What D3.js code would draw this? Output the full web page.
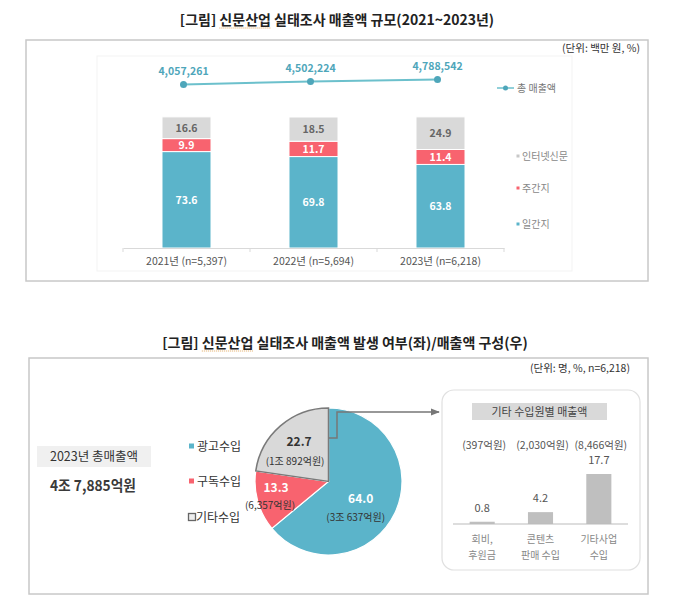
<!DOCTYPE html>
<html><head><meta charset="utf-8">
<script src="https://cdn.jsdelivr.net/npm/d3@7"></script>
<style>
html,body{margin:0;padding:0;background:#fff;}
svg{display:block;font-family:"Noto Sans CJK KR","Noto Sans",sans-serif;}
</style></head>
<body>
<svg id="c" width="680" height="601"></svg>
<script>
// ---------- DATA ----------
const years = ["2021년 (n=5,397)", "2022년 (n=5,694)", "2023년 (n=6,218)"];
const dailyShare = [73.6, 69.8, 63.8];
const weeklyShare = [9.9, 11.7, 11.4];
const internetShare = [16.6, 18.5, 24.9];
const totalSales = [4057261, 4502224, 4788542];
const topSeriesNames = ["일간지", "주간지", "인터넷신문"];
const lineSeriesName = "총 매출액";

const revenueCats = ["광고수입", "구독수입", "기타수입"];
const revenueShare = [64.0, 13.3, 22.7];
const revenueAmount = ["(3조 637억원)", "(6,357억원)", "(1조 892억원)"];
const totalRevenueLabel = "2023년 총매출액";
const totalRevenueValue = "4조 7,885억원";

const otherCats = [["회비,", "후원금"], ["콘텐츠", "판매 수입"], ["기타사업", "수입"]];
const otherShare = [0.8, 4.2, 17.7];
const otherAmount = ["(397억원)", "(2,030억원)", "(8,466억원)"];
const otherTitle = "기타 수입원별 매출액";

const title1 = "[그림] 신문산업 실태조사 매출액 규모(2021~2023년)";
const unit1 = "(단위: 백만 원, %)";
const title2 = "[그림] 신문산업 실태조사 매출액 발생 여부(좌)/매출액 구성(우)";
const unit2 = "(단위: 명, %, n=6,218)";

// ---------- STYLE ----------
const C_BLUE = "#5BB4CA", C_RED = "#F8636F", C_GRAY = "#D9D9D9";
const C_LINE = "#6CC0CC", C_LINE_TXT = "#4EA6BA";
const svg = d3.select("#c");

function title(txt, x, y) {
  const t = svg.append("text").attr("x", x).attr("y", y).attr("text-anchor", "middle")
    .attr("font-size", 14).attr("font-weight", "bold").attr("fill", "#222").text(txt);
  const key = "신문산업";
  const idx = txt.indexOf(key);
  if (idx >= 0) {
    const n = t.node();
    const s = n.getStartPositionOfChar(idx).x;
    const e = n.getEndPositionOfChar(idx + key.length - 1).x;
    svg.append("line").attr("x1", s).attr("x2", e).attr("y1", y + 3).attr("y2", y + 3)
      .attr("stroke", "#e0a860").attr("stroke-width", 1).attr("stroke-dasharray", "1,1");
  }
}

// ---------- TOP ----------
title(title1, 337, 25);
svg.append("rect").attr("x", 26).attr("y", 40).attr("width", 622).attr("height", 241)
  .attr("fill", "none").attr("stroke", "#c8c8c8").attr("stroke-width", 1.5);
svg.append("rect").attr("x", 97).attr("y", 56).attr("width", 475).attr("height", 215)
  .attr("fill", "none").attr("stroke", "#f3f3f3").attr("stroke-width", 1);
svg.append("text").attr("x", 640).attr("y", 52).attr("text-anchor", "end")
  .attr("font-size", 10.5).attr("fill", "#333").text(unit1);

const x1 = d3.scaleBand().domain(years).range([123, 504]).paddingInner(0.614).paddingOuter(0.307);
const y1 = d3.scaleLinear().domain([0, 100]).range([248, 117]);
const yLine = d3.scaleLinear().domain([0, 5000000]).range([112, 78]);

const stackData = years.map((y, i) => ({year: y, d: dailyShare[i], w: weeklyShare[i], n: internetShare[i]}));
const stack = d3.stack().keys(["d", "w", "n"])(stackData);
const colors = [C_BLUE, C_RED, C_GRAY];
const txtColors = ["#fff", "#fff", "#666"];

stack.forEach((layer, li) => {
  const g = svg.append("g");
  g.selectAll("rect").data(layer).join("rect")
    .attr("x", d => x1(d.data.year)).attr("width", x1.bandwidth())
    .attr("y", d => y1(d[1])).attr("height", d => y1(d[0]) - y1(d[1]))
    .attr("fill", colors[li]).attr("stroke", "#fff").attr("stroke-width", 1);
  g.selectAll("text").data(layer).join("text")
    .attr("x", d => x1(d.data.year) + x1.bandwidth() / 2)
    .attr("y", d => (y1(d[0]) + y1(d[1])) / 2 + 4)
    .attr("text-anchor", "middle").attr("font-size", 10.5).attr("font-weight", "bold")
    .attr("fill", txtColors[li]).text(d => (d[1] - d[0]).toFixed(1));
});

// axis
const ax = svg.append("g").attr("transform", "translate(0,248)")
  .call(d3.axisBottom(x1).tickSize(0).tickPadding(10));
ax.select(".domain").attr("stroke", "#d9d9d9");
ax.selectAll("text").attr("font-size", 10.5).attr("fill", "#555").attr("font-family", "'Noto Sans CJK KR',sans-serif");
const bounds = [123].concat(years.map(y => x1(y) + x1.bandwidth() / 2 + x1.step() / 2));
svg.append("g").selectAll("line").data(bounds).join("line")
  .attr("x1", d => d).attr("x2", d => d).attr("y1", 248).attr("y2", 252).attr("stroke", "#d9d9d9");

// line
const pts = years.map((y, i) => [x1(y) + x1.bandwidth() / 2 - 3, yLine(totalSales[i])]);
svg.append("path").attr("d", d3.line()(pts)).attr("fill", "none").attr("stroke", C_LINE).attr("stroke-width", 2);
svg.append("g").selectAll("circle").data(pts).join("circle")
  .attr("cx", d => d[0]).attr("cy", d => d[1]).attr("r", 3.5).attr("fill", C_LINE_TXT);
svg.append("g").selectAll("text").data(pts).join("text")
  .attr("x", d => d[0]).attr("y", d => d[1] - 9).attr("text-anchor", "middle")
  .attr("font-size", 10.5).attr("font-weight", "bold").attr("fill", C_LINE_TXT)
  .text((d, i) => d3.format(",")(totalSales[i]));

// legend
svg.append("line").attr("x1", 497).attr("x2", 514).attr("y1", 88).attr("y2", 88).attr("stroke", C_LINE).attr("stroke-width", 1.5);
svg.append("circle").attr("cx", 505.5).attr("cy", 88).attr("r", 2.5).attr("fill", C_LINE_TXT);
svg.append("text").attr("x", 517).attr("y", 91.5).attr("font-size", 10).attr("fill", "#777").text(lineSeriesName);
const legY = [224, 188, 156];
topSeriesNames.forEach((n, i) => {
  svg.append("rect").attr("x", 516.5).attr("y", legY[i] - 1.5).attr("width", 3).attr("height", 3).attr("fill", colors[i] === C_GRAY ? "#c8c8c8" : colors[i]);
  svg.append("text").attr("x", 522).attr("y", legY[i] + 3.5).attr("font-size", 10).attr("fill", "#888").text(n);
});

// ---------- BOTTOM ----------
title(title2, 345, 348);
svg.append("rect").attr("x", 29).attr("y", 358).attr("width", 619).attr("height", 236)
  .attr("fill", "none").attr("stroke", "#c8c8c8").attr("stroke-width", 1.5);
svg.append("text").attr("x", 630).attr("y", 372).attr("text-anchor", "end")
  .attr("font-size", 10.5).attr("fill", "#333").text(unit2);

// total box
svg.append("rect").attr("x", 37).attr("y", 446).attr("width", 114).attr("height", 21).attr("fill", "#f0f0f0");
svg.append("text").attr("x", 94).attr("y", 461).attr("text-anchor", "middle").attr("font-size", 12.5).attr("fill", "#333").text(totalRevenueLabel);
svg.append("text").attr("x", 50).attr("y", 491).attr("font-size", 15).attr("font-weight", "bold").attr("fill", "#3a3a3a")
  .attr("textLength", 86).attr("lengthAdjust", "spacingAndGlyphs").text(totalRevenueValue);

// pie legend
const pieColors = [C_BLUE, C_RED, C_GRAY];
const pieLegY = [446, 481, 517];
revenueCats.forEach((c, i) => {
  if (i < 2) {
    svg.append("rect").attr("x", 189).attr("y", pieLegY[i] - 2.5).attr("width", 5).attr("height", 5).attr("fill", pieColors[i]);
  } else {
    svg.append("rect").attr("x", 188.5).attr("y", pieLegY[i] - 3.5).attr("width", 7).attr("height", 7).attr("fill", "#eee").attr("stroke", "#666").attr("stroke-width", 1.3);
  }
  svg.append("text").attr("x", i < 2 ? 197 : 196).attr("y", pieLegY[i] + 4.5).attr("font-size", 12).attr("fill", "#333").text(c);
});

// pie
const cx = 328.5, cy = 481.5, R = 73.5;
const pie = d3.pie().sort(null).value(d => d)(revenueShare);
const arc = d3.arc().innerRadius(0).outerRadius(R);
const pg = svg.append("g").attr("transform", `translate(${cx},${cy})`);
pg.selectAll("path").data(pie).join("path").attr("d", arc)
  .attr("fill", (d, i) => pieColors[i])
  .attr("stroke", "#fff").attr("stroke-width", 1.2);
pg.append("path").attr("d", arc(pie[2])).attr("fill", C_GRAY).attr("stroke", "#7a7a7a").attr("stroke-width", 1.5);
const labR = [40, 55, 45];
const numColors = ["#fff", "#fff", "#333"];
const numDx = [-4, 0.5, 0], numDy = [4, -4, -1];
const ampDx = [-9, -5.5, -4], ampDy = [22, 12.5, 17.5];
pie.forEach((p, i) => {
  const c = d3.arc().innerRadius(labR[i]).outerRadius(labR[i]).centroid(p);
  pg.append("text").attr("x", c[0] + numDx[i]).attr("y", c[1] + numDy[i]).attr("text-anchor", "middle")
    .attr("font-size", 12).attr("font-weight", "bold").attr("fill", numColors[i]).text(revenueShare[i].toFixed(1));
  pg.append("text").attr("x", c[0] + ampDx[i]).attr("y", c[1] + ampDy[i]).attr("text-anchor", "middle")
    .attr("font-size", 10).attr("fill", "#333").text(revenueAmount[i]);
});

// connector arrow
svg.append("defs").append("marker").attr("id", "ah").attr("viewBox", "0 0 10 10").attr("refX", 9).attr("refY", 5)
  .attr("markerWidth", 6).attr("markerHeight", 6).attr("orient", "auto")
  .append("path").attr("d", "M0,1L10,5L0,9z").attr("fill", "#777");
svg.append("path").attr("d", `M${cx},438H337V412H439`).attr("fill", "none").attr("stroke", "#777").attr("stroke-width", 1.5).attr("marker-end", "url(#ah)");

// right panel
svg.append("rect").attr("x", 442).attr("y", 390).attr("width", 198).attr("height", 180).attr("rx", 12)
  .attr("fill", "#fff").attr("stroke", "#e0e0e0").attr("stroke-width", 1.2);
svg.append("rect").attr("x", 472).attr("y", 403).attr("width", 135).attr("height", 17).attr("fill", "#d9d9d9");
svg.append("text").attr("x", 539.5).attr("y", 415.5).attr("text-anchor", "middle").attr("font-size", 11).attr("fill", "#444").text(otherTitle);

const x2 = d3.scaleBand().domain(otherCats.map(d => d.join(" "))).range([453, 628]).paddingInner(0.57).paddingOuter(0.285);
const y2 = d3.scaleLinear().domain([0, 20]).range([524, 467.5]);
const og = svg.append("g");
og.selectAll("rect").data(otherShare).join("rect")
  .attr("x", (d, i) => x2(otherCats[i].join(" "))).attr("width", x2.bandwidth())
  .attr("y", d => y2(d)).attr("height", d => y2(0) - y2(d)).attr("fill", "#bfbfbf");
og.selectAll("text.v").data(otherShare).join("text").attr("class", "v")
  .attr("x", (d, i) => x2(otherCats[i].join(" ")) + x2.bandwidth() / 2).attr("y", d => y2(d) - 10)
  .attr("text-anchor", "middle").attr("font-size", 11).attr("fill", "#555").text(d => d.toFixed(1));
og.selectAll("text.a").data(otherAmount).join("text").attr("class", "a")
  .attr("x", (d, i) => x2(otherCats[i].join(" ")) + x2.bandwidth() / 2 + 2).attr("y", 448.5)
  .attr("text-anchor", "middle").attr("font-size", 10.5).attr("fill", "#555").text(d => d);
svg.append("line").attr("x1", 453).attr("x2", 628).attr("y1", 524).attr("y2", 524).attr("stroke", "#bbb");
otherCats.forEach((lines, i) => {
  const xc = x2(lines.join(" ")) + x2.bandwidth() / 2;
  lines.forEach((t, j) => {
    svg.append("text").attr("x", xc).attr("y", 543 + j * 16).attr("text-anchor", "middle")
      .attr("font-size", 10).attr("fill", "#888").text(t);
  });
});
</script>
</body></html>
